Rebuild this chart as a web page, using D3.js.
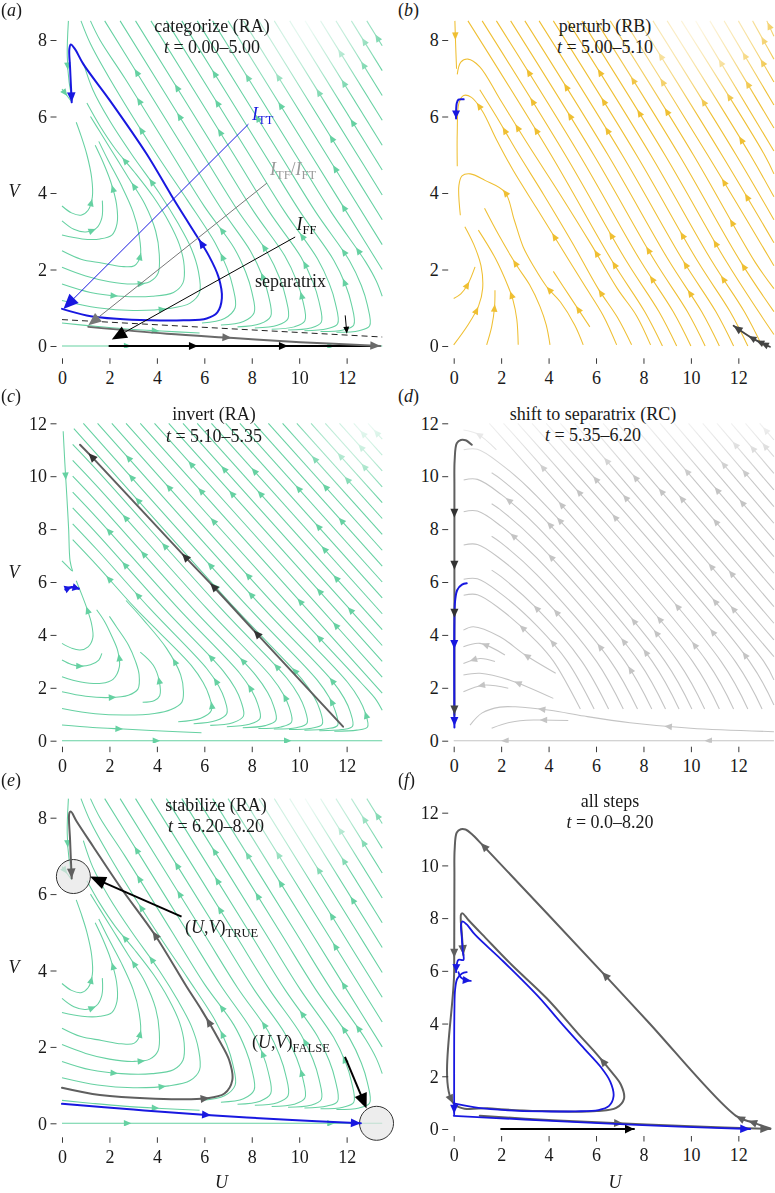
<!DOCTYPE html>
<html><head><meta charset="utf-8">
<script src="https://cdn.jsdelivr.net/npm/d3@7"></script>
<style>
html,body{margin:0;padding:0;background:#fff;}
svg{display:block;}
.t{font-family:"Liberation Serif","Times New Roman",serif;font-size:18px;fill:#1a1a1a;}
</style></head><body>
<script>
// ================= DATA =================
const xTickVals = [0,2,4,6,8,10,12];
const yTicksLow = [0,2,4,6,8];
const yTicksHigh = [0,2,4,6,8,10,12];
const titleTop = {a:"categorize (RA)", b:"perturb (RB)", c:"invert (RA)", d:"shift to separatrix (RC)", e:"stabilize (RA)", f:"all steps"};
const titleTime = {a:"0.00–5.00", b:"5.00–5.10", c:"5.10–5.35", d:"5.35–6.20", e:"6.20–8.20", f:"0.0–8.20"};

// streamlines of regime RA, V range 0-8.5 (panels a, e) — flow order
const raLines8 = [
 [[0,3.66],[0.4,3.48],[0.8,3.42],[1.1,3.55],[1.28,3.9],[1.25,4.4],[1.05,5.0],[0.8,5.5],[0.6,5.85]],
 [[0,3.27],[0.5,3.05],[1.0,2.98],[1.45,3.08],[1.68,3.35],[1.7,3.8]],
 [[0,2.9],[0.85,2.8],[1.6,2.8],[2.1,2.9],[2.32,3.2],[2.3,3.7],[2.05,4.3],[1.7,4.85],[1.4,5.25]],
 [[0,2.49],[0.8,2.27],[1.67,2.17],[2.5,2.08],[3.05,2.1],[3.3,2.35],[3.25,2.9],[3.0,3.5],[2.5,4.2],[1.95,4.85],[1.55,5.35]],
 [[0,2.06],[1.0,1.83],[2.0,1.68],[3.0,1.62],[3.7,1.68],[4.05,1.9],[4.1,2.4],[3.95,3.0],[3.5,3.7],[2.8,4.4],[2.2,5.0],[1.6,5.6],[1.2,6.0]],
 [[0,1.62],[1.2,1.4],[2.5,1.3],[3.8,1.3],[4.7,1.4],[5.1,1.65],[5.15,2.1],[4.95,2.65],[4.5,3.25],[3.85,3.9],[3.05,4.55],[2.25,5.15],[1.6,5.75],[1.05,6.35]],
 [[0,1.19],[1.5,1.0],[3.0,0.93],[4.5,0.98],[5.4,1.12],[5.8,1.4],[5.75,1.95],[5.45,2.55],[4.9,3.2],[4.1,4.0],[2.95,5.0],[2.0,5.9],[1.3,6.7],[0.9,7.4]],
 [[0,0.6],[1.3,0.52],[2.6,0.45],[4.2,0.39],[5.8,0.34]],
 [[0,0],[13.5,0]],
 [[0.27,8.5],[0.22,7.6],[0.3,6.9],[0.42,6.5]],
 [[0,6.72],[0.41,6.38]],
 [[5.9,0.6],[6.85,0.72],[7.3,1.0],[7.2,1.55],[6.95,2.05],[6.45,2.7],[5.3,3.8],[4.0,5.0],[2.0,7.0],[1.2,7.9],[0.8,8.5]],
 [[6.7,0.55],[7.65,0.64],[8.1,0.87],[8.0,1.42],[7.75,1.92],[7.25,2.57],[6.0,3.65],[4.65,5.0],[2.65,7.0],[1.6,8.0],[1.2,8.5]],
 [[7.4,0.5],[8.35,0.58],[8.8,0.78],[8.7,1.33],[8.45,1.83],[7.95,2.48],[6.7,3.6],[5.3,5.0],[3.3,7.0],[1.8,8.5]],
 [[8.13,0.47],[9.08,0.54],[9.53,0.72],[9.43,1.27],[9.18,1.77],[8.68,2.42],[7.4,3.55],[5.95,5.0],[2.45,8.5]],
 [[8.84,0.44],[9.79,0.5],[10.24,0.66],[10.14,1.21],[9.89,1.71],[9.39,2.36],[8.1,3.5],[6.6,5.0],[3.1,8.5]],
 [[9.53,0.42],[10.48,0.47],[10.93,0.62],[10.83,1.17],[10.58,1.67],[10.08,2.32],[8.75,3.5],[7.25,5.0],[3.75,8.5]],
 [[10.22,0.4],[11.17,0.45],[11.62,0.58],[11.52,1.13],[11.27,1.63],[10.77,2.28],[9.4,3.5],[7.9,5.0],[4.4,8.5]],
 [[10.9,0.38],[11.85,0.42],[12.3,0.55],[12.2,1.1],[11.95,1.6],[11.45,2.25],[10.05,3.5],[8.55,5.0],[5.05,8.5]],
 [[11.57,0.36],[12.52,0.4],[12.97,0.53],[12.87,1.08],[12.62,1.58],[12.12,2.23],[10.7,3.5],[9.2,5.0],[5.7,8.5]],
 [[13.5,1.3],[13.25,1.7],[12.8,2.2],[11.35,3.5],[9.85,5.0],[6.35,8.5]],
 [[13.5,2.0],[12.0,3.5],[10.5,5.0],[7.0,8.5]],
 [[13.5,2.65],[11.15,5.0],[7.65,8.5]],
 [[13.5,3.3],[11.8,5.0],[8.3,8.5]],
 [[13.5,3.95],[12.45,5.0],[8.95,8.5]],
 [[13.5,4.6],[9.6,8.5]],
 [[13.5,5.25],[10.25,8.5]],
 [[13.5,5.9],[10.9,8.5]],
 [[13.5,6.55],[11.55,8.5]],
 [[13.5,7.2],[12.2,8.5]],
 [[13.5,7.85],[12.85,8.5]]
];

// streamlines of regime RA, V range 0-12 (panel c) — flow order
const raLines12 = [
 [[0.05,11.7],[0.12,10.5],[0.2,9.3],[0.28,8.0],[0.34,6.8],[0.45,6.4]],
 [[0,6.8],[0.42,6.42]],
 [[0,3.68],[0.4,3.5],[0.76,3.43],[1.1,3.55],[1.3,3.9],[1.25,4.4],[1.05,5.0],[0.8,5.6],[0.6,6.05]],
 [[0,3.05],[0.4,2.88],[0.76,2.82],[1.2,2.87],[1.55,3.05],[1.68,3.3]],
 [[0,2.42],[0.8,2.22],[1.67,2.17],[2.15,2.32],[2.42,2.8],[2.35,3.4],[2.1,3.95],[1.8,4.5],[1.46,4.95]],
 [[0,1.85],[1.0,1.68],[2.0,1.63],[2.8,1.72],[3.2,1.95],[3.25,2.5],[3.1,3.0],[2.8,3.62],[2.3,4.3],[2.0,4.7]],
 [[3.4,1.45],[3.9,1.52],[4.12,1.7],[4.1,2.25],[3.85,2.85],[3.3,3.35]],
 [[0,1.22],[1.4,1.02],[2.7,0.97],[3.9,1.03],[4.6,1.18],[5.05,1.45],[5.12,1.85],[5.0,2.5],[4.4,3.5],[3.45,4.55],[2.7,5.3]],
 [[0,0.59],[1.3,0.5],[2.58,0.44],[4.2,0.37],[5.88,0.3]],
 [[0,0],[13.5,0]],
 [[4.9,0.72],[5.85,0.85],[6.3,1.15],[6.2,1.7],[5.95,2.2],[5.45,2.85],[3.1,5.0],[1.5,6.6],[0.45,7.6]],
 [[5.55,0.64],[6.5,0.76],[6.95,1.03],[6.85,1.58],[6.6,2.08],[6.1,2.73],[3.7,5.0],[1.5,7.2],[0.45,8.2]],
 [[6.25,0.58],[7.2,0.68],[7.65,0.93],[7.55,1.48],[7.3,1.98],[6.8,2.63],[4.3,5.0],[1.5,7.8],[0.45,8.8]],
 [[6.95,0.53],[7.9,0.62],[8.35,0.84],[8.25,1.39],[8.0,1.89],[7.5,2.54],[4.9,5.0],[1.5,8.4],[0.45,9.4]],
 [[7.62,0.49],[8.57,0.57],[9.02,0.77],[8.92,1.32],[8.67,1.82],[8.17,2.47],[5.5,5.0],[1.5,9.0],[0.45,10.0]],
 [[8.28,0.46],[9.23,0.52],[9.68,0.71],[9.58,1.26],[9.33,1.76],[8.83,2.41],[6.1,5.0],[1.5,9.6],[0.45,10.6]],
 [[8.93,0.44],[9.88,0.49],[10.33,0.66],[10.23,1.21],[9.98,1.71],[9.48,2.36],[6.7,5.0],[1.5,10.2],[0.45,11.2]],
 [[9.57,0.42],[10.52,0.47],[10.97,0.62],[10.87,1.17],[10.62,1.67],[10.12,2.32],[7.3,5.0],[1.5,10.8],[0.5,11.8]],
 [[10.22,0.4],[11.17,0.45],[11.62,0.58],[11.52,1.13],[11.27,1.63],[10.77,2.28],[7.9,5.0],[0.9,12.0]],
 [[10.85,0.38],[11.8,0.42],[12.25,0.55],[12.15,1.1],[11.9,1.6],[11.4,2.25],[8.5,5.0],[1.5,12.0]],
 [[11.48,0.36],[12.43,0.4],[12.88,0.52],[12.78,1.07],[12.53,1.57],[12.03,2.22],[9.1,5.0],[2.1,12.0]],
 [[13.5,1.15],[13.2,1.6],[12.6,2.2],[9.7,5.0],[2.7,12.0]],
 [[13.5,1.8],[10.3,5.0],[3.3,12.0]],
 [[13.5,2.4],[10.9,5.0],[3.9,12.0]],
 [[13.5,3.0],[11.5,5.0],[4.5,12.0]],
 [[13.5,3.6],[12.1,5.0],[5.1,12.0]],
 [[13.5,4.2],[5.7,12.0]],
 [[13.5,4.8],[6.3,12.0]],
 [[13.5,5.4],[6.9,12.0]],
 [[13.5,6.0],[7.5,12.0]],
 [[13.5,6.6],[8.1,12.0]],
 [[13.5,7.2],[8.7,12.0]],
 [[13.5,7.8],[9.3,12.0]],
 [[13.5,8.4],[9.9,12.0]],
 [[13.5,9.0],[10.5,12.0]],
 [[13.5,9.6],[11.1,12.0]],
 [[13.5,10.2],[11.7,12.0]],
 [[13.5,10.8],[12.3,12.0]],
 [[13.5,11.4],[12.9,12.0]]
];

// streamlines of regime RB (panel b) — flow order
const rbLines = [
 [[0,0.03],[0.6,0.55],[1.05,1.05],[1.22,1.5],[1.15,2.1],[0.85,2.65],[0.47,3.12]],
 [[0,1.24],[0.3,1.36],[0.6,1.62],[0.9,2.07]],
 [[1.39,0.03],[1.6,0.5],[1.72,1.0],[1.74,1.46]],
 [[2.72,0.03],[2.66,0.7],[2.5,1.2],[2.3,1.55],[1.75,2.3],[1.04,3.03]],
 [[4.06,0.03],[3.9,0.55],[3.64,1.03],[3.2,1.6],[2.65,2.11],[1.9,2.9],[1.3,3.6]],
 [[5.74,0.5],[4.9,1.29],[4.2,1.95]],
 [[5.46,0.03],[5.1,0.55],[4.5,1.15],[3.92,1.55],[3.4,2.05],[2.93,2.59],[2.55,3.3],[2.16,4.02],[1.32,4.33],[0.7,4.5],[0.35,4.45],[0.22,4.2],[0.28,3.42]],
 [[6.87,0.03],[6.3,0.8],[5.5,1.6],[4.5,2.6],[3.5,3.6],[2.5,4.6],[1.8,5.4],[1.2,6.15],[0.75,6.5],[0.42,6.55],[0.22,6.35],[0.15,5.6],[0.15,4.7]],
 [[7.5,0.03],[6.9,0.75],[6.09,1.5],[5.0,2.7],[3.8,3.95],[2.7,5.05],[1.8,6.0],[1.1,6.7]],
 [[8.3,0.03],[7.7,0.8],[6.9,1.5],[5.8,2.65],[4.5,3.95],[3.1,5.3],[1.95,6.45],[1.1,7.3],[0.6,7.5],[0.3,7.42],[0.15,7.1]],
 [[0.05,8.5],[0.08,7.9],[0.12,7.25]],
 [[8.8,0],[8.05,0.9],[6.7,2.2],[4.1,5.0],[0.6,8.5]],
 [[9.4,0],[8.65,0.9],[7.3,2.2],[4.7,5.0],[1.2,8.5]],
 [[10.0,0],[9.25,0.9],[7.9,2.2],[5.3,5.0],[1.8,8.5]],
 [[10.6,0],[9.85,0.9],[8.5,2.2],[5.9,5.0],[2.4,8.5]],
 [[11.2,0],[10.45,0.9],[9.1,2.2],[6.5,5.0],[3.0,8.5]],
 [[11.8,0],[11.05,0.9],[9.7,2.2],[7.1,5.0],[3.6,8.5]],
 [[12.4,0],[11.65,0.9],[10.3,2.2],[7.7,5.0],[4.2,8.5]],
 [[13.0,0],[12.25,0.9],[10.9,2.2],[8.3,5.0],[4.8,8.5]],
 [[13.5,0.3],[12.85,0.9],[11.5,2.2],[8.9,5.0],[5.4,8.5]],
 [[13.5,0.9],[12.1,2.2],[9.5,5.0],[6.0,8.5]],
 [[13.5,1.5],[12.7,2.2],[10.1,5.0],[6.6,8.5]],
 [[13.5,2.1],[10.7,5.0],[7.2,8.5]],
 [[13.5,2.7],[11.3,5.0],[7.8,8.5]],
 [[13.5,3.3],[11.9,5.0],[8.4,8.5]],
 [[13.5,3.9],[12.5,5.0],[9.0,8.5]],
 [[13.5,4.5],[13.1,5.0],[9.6,8.5]],
 [[13.5,5.1],[10.2,8.5]],
 [[13.5,5.7],[10.8,8.5]],
 [[13.5,6.3],[11.4,8.5]],
 [[13.5,6.9],[12.0,8.5]],
 [[13.5,7.5],[12.6,8.5]],
 [[13.5,8.1],[13.2,8.5]]
];

// streamlines of regime RC (panel d) — listed left to right, flow runs right to left
const rcLines = [
 [[0,0],[13.5,0]],
 [[0.69,0.59],[1.2,1.05],[1.95,1.27],[2.6,1.28],[4.06,1.15],[5.5,0.93],[7.43,0.68],[10,0.47],[13.5,0.34]],
 [[1.6,0.47],[2.4,0.7],[3.36,0.78],[4.83,0.76]],
 [[0.41,1.85],[1.25,2.1],[2.3,1.98]],
 [[0.41,2.48],[1.11,2.55],[2.37,2.29],[4.2,1.6]],
 [[0.41,2.92],[1.11,3.11],[1.74,2.99]],
 [[0.41,3.55],[1.11,3.68],[2.16,3.24]],
 [[0.41,4.18],[0.83,4.31],[1.95,3.93],[3.0,3.25],[4.3,2.55]],
 [[0.42,5.5],[1.0,5.52],[2.0,4.95],[3.5,3.75],[4.21,3.0],[5.34,1.2]],
 [[0.42,6.1],[1.0,6.12],[2.0,5.55],[3.5,4.35],[4.79,3.0],[5.92,1.2]],
 [[1.6,6.45],[2.0,6.2],[3.5,5.0],[5.4,3.0],[6.53,1.2]],
 [[0.42,7.4],[1.0,7.42],[2.0,6.85],[3.5,5.65],[6.02,3.0],[7.15,1.2]],
 [[1.6,7.73],[2.0,7.48],[3.5,6.28],[6.62,3.0],[7.75,1.2]],
 [[0.42,8.66],[1.0,8.68],[2.0,8.11],[3.5,6.91],[7.22,3.0],[8.35,1.2]],
 [[1.6,8.96],[2.0,8.71],[3.5,7.51],[7.8,3.0],[8.93,1.2]],
 [[0.42,9.86],[1.0,9.88],[2.0,9.31],[3.5,8.11],[8.37,3.0],[9.5,1.2]],
 [[1.6,10.13],[2.0,9.88],[3.5,8.68],[8.91,3.0],[10.04,1.2]],
 [[0.42,11.0],[1.0,11.02],[2.0,10.45],[3.5,9.25],[9.45,3.0],[10.58,1.2]],
 [[0.41,11.75],[1.0,11.6],[1.8,11.0]],
 [[1.5,12],[10.07,3.0],[11.2,1.2]],
 [[2.1,12],[10.67,3.0],[11.8,1.2]],
 [[2.7,12],[11.27,3.0],[12.4,1.2]],
 [[3.3,12],[11.87,3.0],[13.0,1.2]],
 [[3.9,12],[12.47,3.0],[13.5,1.35]],
 [[4.5,12],[13.07,3.0],[13.5,2.3]],
 [[5.1,12],[13.5,3.18]],
 [[5.7,12],[13.5,3.81]],
 [[6.3,12],[13.5,4.44]],
 [[6.9,12],[13.5,5.07]],
 [[7.5,12],[13.5,5.7]],
 [[8.1,12],[13.5,6.33]],
 [[8.7,12],[13.5,6.96]],
 [[9.3,12],[13.5,7.59]],
 [[9.9,12],[13.5,8.22]],
 [[10.5,12],[13.5,8.85]],
 [[11.1,12],[13.5,9.48]],
 [[11.7,12],[13.5,10.11]],
 [[12.3,12],[13.5,10.74]],
 [[12.9,12],[13.5,11.37]]
];

// trajectories
const trajA_blue = [[0.0,0.97],[1.04,0.8],[2.3,0.71],[3.71,0.67],[5.12,0.67],[6.1,0.72],[6.55,0.88],[6.74,1.25],[6.6,1.8],[6.2,2.35],[5.5,3.05],[4.6,3.95],[3.57,5.02],[2.03,6.41],[0.9,7.37],[0.55,7.76],[0.37,7.88],[0.31,7.76],[0.34,7.28],[0.38,6.76],[0.41,6.37]];
const trajA_gray = [[1.11,0.5],[4.42,0.32],[7.23,0.21],[10.04,0.1],[13.42,0.0]];
const trajA_black = [[2.0,0.0],[13.0,0.0]];
const separatrix = [[0,0.69],[13.5,0.235]];
const trajB_blue = [[0.42,6.45],[0.2,6.44],[0.13,6.35],[0.1,5.95]];
const trajB_gray = [[13.33,-0.02],[12.6,0.2],[11.8,0.53]];
const trajC_gray = [[11.85,0.53],[8.2,4.06],[6.38,5.83],[5.18,6.96],[1.25,10.74],[0.76,11.19]];
const trajC_blue = [[0.15,5.72],[0.4,5.8],[0.7,5.75]];
const trajD_gray = [[0.76,11.19],[0.5,11.36],[0.3,11.37],[0.13,11.25],[0.04,10.6],[0.03,9.5],[0.03,6.0],[0.03,0.97]];
const trajD_blue = [[0.55,5.95],[0.35,5.9],[0.15,5.7],[0.06,5.3],[0.03,4.5],[0.03,0.5]];
const trajE_gray = [[0,0.93],[1.6,0.74],[3.7,0.65],[6.03,0.65],[6.85,0.78],[7.18,1.13],[7.05,1.65],[6.6,2.2],[5.9,2.95],[5.25,3.58],[3.92,4.93],[2.44,6.2],[1.32,7.24],[0.62,7.9],[0.37,8.16],[0.31,8.12],[0.34,7.42],[0.41,6.41]];
const trajE_blue = [[0,0.51],[3,0.36],[6.1,0.22],[9.5,0.09],[12.6,0.0]];
const trajF_grayA = [[1.1,0.5],[4.4,0.32],[7.2,0.21],[10,0.1],[13.35,0.0]];
const trajF_gray = [[13.35,0.02],[12.6,0.25],[11.9,0.5],[8.2,4.06],[6.38,5.83],[1.25,10.74],[0.76,11.19],[0.5,11.36],[0.3,11.37],[0.13,11.25],[0.04,10.6],[0.03,9.5],[0.02,6],[0.0,0.97],[1.6,0.78],[3.7,0.68],[6.03,0.68],[6.85,0.8],[7.18,1.15],[7.05,1.68],[6.6,2.22],[5.9,2.97],[5.25,3.61],[3.92,4.96],[2.44,6.23],[1.32,7.27],[0.62,7.93],[0.37,8.18],[0.31,8.14],[0.34,7.45],[0.41,6.6]];
const trajF_blue1 = [[0.0,0.97],[1.04,0.8],[2.3,0.71],[3.71,0.67],[5.12,0.67],[6.1,0.72],[6.55,0.88],[6.74,1.25],[6.6,1.8],[6.2,2.35],[5.5,3.05],[4.6,3.95],[3.57,5.02],[2.03,6.41],[0.9,7.37],[0.55,7.76],[0.37,7.88],[0.31,7.76],[0.34,7.28],[0.38,6.76],[0.41,6.42],[0.2,6.42],[0.12,6.2],[0.1,5.95]];
const trajF_blue2 = [[0.2,5.95],[0.3,5.75],[0.5,5.65],[0.72,5.62]];
const trajF_blue3 = [[0.55,5.95],[0.35,5.9],[0.15,5.7],[0.06,5.3],[0.03,4.5],[0.02,0.55]];
const trajF_blue4 = [[0,0.5],[3,0.36],[6.1,0.22],[9.5,0.09],[12.5,0.0]];
const trajF_black = [[2.0,0.0],[7.6,0.0]];
const stableTrue = [0.48,6.46];
const stableFalse = [13.26,0.0];

// ================= DRAWING =================
const W = 775, H = 1193;
const SERIF = '"Liberation Serif","Times New Roman",serif';
const GREEN = '#66d1a2', GOLD = '#efbf32', LGRAY = '#c4c4c4', BLUE = '#1818e0', DGRAY = '#5f5f5f';
const svg = d3.select('body').append('svg').attr('width',W).attr('height',H);
const defs = svg.append('defs');

const layout = {
 a:{x0:62,    y0:346,    ppv:38.25, vmax:8.5, tickOff:12.3, yt:yTicksLow},
 b:{x0:453.7, y0:346,    ppv:38.25, vmax:8.5, tickOff:12.3, yt:yTicksLow},
 c:{x0:62,    y0:740.7,  ppv:26.45, vmax:12,  tickOff:6,    yt:yTicksHigh},
 d:{x0:453.7, y0:740.7,  ppv:26.45, vmax:12,  tickOff:6,    yt:yTicksHigh},
 e:{x0:62,    y0:1123.3, ppv:38.2,  vmax:8.5, tickOff:14,   yt:yTicksLow},
 f:{x0:453.7, y0:1129,   ppv:26.36, vmax:12,  tickOff:7,    yt:yTicksHigh}
};
const PPU = 23.72;
const P = {};
Object.keys(layout).forEach(k=>{
  const c = layout[k];
  const x = d3.scaleLinear().domain([0,13.5]).range([c.x0, c.x0+13.5*PPU]);
  const y = d3.scaleLinear().domain([0,c.vmax]).range([c.y0, c.y0-c.vmax*c.ppv]);
  defs.append('clipPath').attr('id','clip-'+k).append('rect')
    .attr('x',x(0)-1.5).attr('y',y(c.vmax)-1).attr('width',x(13.5)-x(0)+3).attr('height',y(0)-y(c.vmax)+3);
  P[k] = {x,y,key:k,c};
});

function radialMask(id, cx, cy, r){
  const gr = defs.append('radialGradient').attr('id',id+'-g').attr('gradientUnits','userSpaceOnUse')
    .attr('cx',cx).attr('cy',cy).attr('r',r);
  gr.append('stop').attr('offset',0).attr('stop-color','#151515');
  gr.append('stop').attr('offset',0.5).attr('stop-color','#707070');
  gr.append('stop').attr('offset',1).attr('stop-color','#ffffff');
  defs.append('mask').attr('id',id).attr('maskUnits','userSpaceOnUse').attr('x',0).attr('y',0).attr('width',W).attr('height',H)
    .append('rect').attr('width',W).attr('height',H).attr('fill',`url(#${id}-g)`);
}
function linearMask(id, yTop, yBot){
  const gr = defs.append('linearGradient').attr('id',id+'-g').attr('gradientUnits','userSpaceOnUse')
    .attr('x1',0).attr('x2',0).attr('y1',yTop).attr('y2',yBot);
  gr.append('stop').attr('offset',0).attr('stop-color','#3a3a3a');
  gr.append('stop').attr('offset',1).attr('stop-color','#ffffff');
  defs.append('mask').attr('id',id).attr('maskUnits','userSpaceOnUse').attr('x',0).attr('y',0).attr('width',W).attr('height',H)
    .append('rect').attr('width',W).attr('height',H).attr('fill',`url(#${id}-g)`);
}
radialMask('m-a', P.a.x(10.3), P.a.y(8.5), 90);
radialMask('m-e', P.e.x(10.3), P.e.y(8.5), 90);
radialMask('m-b', P.b.x(10.3), P.b.y(8.6), 100);
radialMask('m-c', P.c.x(12.9), P.c.y(12.1), 80);
linearMask('m-d', P.d.y(12), P.d.y(9.8));

function midArrow(g, node, s, color, len, hw, reverse){
  const L = node.getTotalLength();
  const a = node.getPointAtLength(Math.max(0,s-1.5)), b = node.getPointAtLength(Math.min(L,s+1.5));
  let ang = Math.atan2(b.y-a.y, b.x-a.x); if (reverse) ang += Math.PI;
  const p = node.getPointAtLength(s);
  g.append('path').attr('d',`M${len/2},0L${-len/2},${hw}L${-len/2},${-hw}Z`).attr('fill',color)
    .attr('transform',`translate(${p.x},${p.y}) rotate(${ang*180/Math.PI})`);
}
function endHead(g, node, color, len, hw){
  const L = node.getTotalLength();
  const a = node.getPointAtLength(Math.max(0,L-3)), p = node.getPointAtLength(L);
  const ang = Math.atan2(p.y-a.y, p.x-a.x);
  g.append('path').attr('d',`M0,0L${-len},${hw}L${-len},${-hw}Z`).attr('fill',color)
    .attr('transform',`translate(${p.x},${p.y}) rotate(${ang*180/Math.PI})`);
}
function nearestS(node, px, py){
  const L = node.getTotalLength(); let best=0, bd=1e12;
  for (let s=0; s<=L; s+=1){ const p=node.getPointAtLength(s); const d=(p.x-px)**2+(p.y-py)**2; if(d<bd){bd=d;best=s;} }
  return best;
}
const curve = d3.curveCatmullRom.alpha(0.5);
function gen(Pn){ return d3.line().x(d=>Pn.x(d[0])).y(d=>Pn.y(d[1])).curve(curve); }

function drawStreams(Pn, lines, color, reverse, maskId){
  const outer = svg.append('g').attr('clip-path',`url(#clip-${Pn.key})`);
  const g = maskId ? outer.append('g').attr('mask',`url(#${maskId})`) : outer;
  const lg = gen(Pn);
  lines.forEach((pts,i)=>{
    const path = g.append('path').attr('d',lg(pts)).attr('fill','none').attr('stroke',color).attr('stroke-width',1.05);
    const node = path.node(); const L = node.getTotalLength();
    if (L < 16) return;
    const n = Math.max(1, Math.round(L/165));
    for (let k=0;k<n;k++){
      const j = (((i*7+k*3)%5)-2)*0.09;
      midArrow(g, node, Math.min(L-4, Math.max(4,(k+0.5+j)/n*L)), color, 7.5, 3.3, reverse);
    }
  });
}
function drawTraj(Pn, pts, color, opt){
  opt = opt||{};
  const g = svg.append('g');
  const path = g.append('path').attr('d',gen(Pn)(pts)).attr('fill','none').attr('stroke',color)
    .attr('stroke-width',opt.w||2).attr('stroke-linejoin','round').attr('stroke-linecap','round');
  const node = path.node();
  (opt.arrows||[]).forEach(a=>{ midArrow(g,node,nearestS(node,Pn.x(a[0]),Pn.y(a[1])),opt.ac||color,opt.al||9,opt.ahw||4,false); });
  if (opt.head) endHead(g,node,opt.ac||color,opt.hl||10,opt.hhw||4.3);
}
function annArrow(Pn, from, to, color, w, len, hw){
  const x1=Pn.x(from[0]), y1=Pn.y(from[1]), x2=Pn.x(to[0]), y2=Pn.y(to[1]);
  const ang = Math.atan2(y2-y1,x2-x1);
  svg.append('line').attr('x1',x1).attr('y1',y1).attr('x2',x2-Math.cos(ang)*len*0.8).attr('y2',y2-Math.sin(ang)*len*0.8)
    .attr('stroke',color).attr('stroke-width',w);
  svg.append('path').attr('d',`M0,0L${-len},${hw}L${-len},${-hw}Z`).attr('fill',color)
    .attr('transform',`translate(${x2},${y2}) rotate(${ang*180/Math.PI})`);
}
function axes(Pn){
  const c = Pn.c;
  const ya = svg.append('g').attr('transform',`translate(${c.x0-5.5},0)`)
    .call(d3.axisLeft(Pn.y).tickValues(c.yt).tickSize(6).tickPadding(3.5));
  const xa = svg.append('g').attr('transform',`translate(0,${c.y0+c.tickOff})`)
    .call(d3.axisBottom(Pn.x).tickValues(xTickVals).tickSize(5.5).tickPadding(7.2));
  [ya,xa].forEach(a=>{
    a.select('.domain').remove();
    a.selectAll('line').attr('stroke','#3a3a3a');
    a.selectAll('text').style('font-family',SERIF).style('font-size','18px').style('fill','#1a1a1a');
  });
}
function title(k, cx, y1, y2){
  svg.append('text').attr('class','t').attr('x',cx).attr('y',y1).attr('text-anchor','middle').text(titleTop[k]);
  const t = svg.append('text').attr('class','t').attr('x',cx).attr('y',y2).attr('text-anchor','middle');
  t.append('tspan').attr('font-style','italic').text('t');
  t.append('tspan').text(' = '+titleTime[k]);
}
function panelLabel(letter, x, y){
  const t = svg.append('text').attr('class','t').attr('x',x).attr('y',y);
  t.append('tspan').text('(');
  t.append('tspan').attr('font-style','italic').text(letter);
  t.append('tspan').text(')');
}
function italicLabel(s, x, y){
  svg.append('text').attr('class','t').attr('x',x).attr('y',y).attr('text-anchor','middle').attr('font-style','italic').text(s);
}
function subLabel(parts, x, y, color){
  const t = svg.append('text').attr('class','t').attr('x',x).attr('y',y).style('fill',color);
  parts.forEach(p=>{
    const s = t.append('tspan').text(p[0]);
    if (p[1]==='i') s.attr('font-style','italic');
    if (p[1]==='s') s.attr('font-size',12.5).attr('dy',4);
    if (p[1]==='u') s.attr('dy',-4);
  });
}

// ---- panel (a)
drawStreams(P.a, raLines8, GREEN, false, 'm-a');
svg.append('path').attr('d',d3.line().x(d=>P.a.x(d[0])).y(d=>P.a.y(d[1]))(separatrix))
  .attr('stroke','#222').attr('stroke-width',1).attr('stroke-dasharray','6,4').attr('fill','none');
drawTraj(P.a, trajA_black, '#000', {arrows:[[5.54,0],[9.34,0]]});
drawTraj(P.a, trajA_gray, '#6a6a6a', {arrows:[[6.95,0.22]], head:true});
drawTraj(P.a, trajA_blue, BLUE, {arrows:[[5.82,2.67]], head:true});
annArrow(P.a, [7.86,5.8], [0.06,0.97], BLUE, 1, 15, 6.5);
annArrow(P.a, [8.64,4.26], [1.11,0.54], '#777', 1, 13, 5.5);
annArrow(P.a, [9.83,2.85], [2.1,0.17], '#000', 1, 15, 6.5);
annArrow(P.a, [11.94,0.8], [12.01,0.32], '#000', 1, 7, 3);
subLabel([['I','i'],['TT','s']], 252, 120, BLUE);
subLabel([['I','i'],['TF','s'],['/','u'],['I','i'],['FT','s']], 270, 175, '#9a9a9a');
subLabel([['I','i'],['FF','s']], 296.5, 230, '#111');
svg.append('text').attr('class','t').attr('x',255).attr('y',287).text('separatrix');
title('a', 212, 31.5, 53);
panelLabel('a', 1, 16);
italicLabel('V', 14, 197);
axes(P.a);

// ---- panel (b)
drawStreams(P.b, rbLines, GOLD, false, 'm-b');
drawTraj(P.b, trajB_gray, '#444', {w:1.8, arrows:[[12.56,0.19],[12.9,0.1],[13.1,0.06]], al:8, ahw:3.5, head:true, hl:9, hhw:4});
drawTraj(P.b, trajB_blue, BLUE, {head:true, hl:8, hhw:4});
title('b', 605, 31.5, 52.5);
panelLabel('b', 398, 16);
axes(P.b);

// ---- panel (c)
drawStreams(P.c, raLines12, GREEN, false, 'm-c');
drawTraj(P.c, trajC_gray, DGRAY, {arrows:[[8.2,4.06],[6.38,5.83],[5.18,6.96],[1.25,10.74]], ac:'#333'});
drawTraj(P.c, trajC_blue, BLUE, {w:2.5, arrows:[[0.25,5.77],[0.6,5.78]], al:7, ahw:4});
title('c', 214, 420, 442);
panelLabel('c', 1, 402);
italicLabel('V', 14, 578);
axes(P.c);

// ---- panel (d)
drawStreams(P.d, rcLines, LGRAY, true, 'm-d');
drawTraj(P.d, trajD_gray, DGRAY, {arrows:[[0.03,8.6],[0.03,6.64]], ac:'#333'});
drawTraj(P.d, trajD_blue, BLUE, {arrows:[[0.03,3.62],[0.03,0.72]]});
drawTraj(P.d, [[0.03,5.2],[0.03,4.4]], DGRAY, {w:0.1, arrows:[[0.03,4.82]], ac:'#333'});
drawTraj(P.d, [[0.03,1.5],[0.03,0.9]], DGRAY, {w:0.1, arrows:[[0.03,1.16]], ac:'#444'});
title('d', 593, 419.5, 441);
panelLabel('d', 398, 402);
axes(P.d);

// ---- panel (e)
drawStreams(P.e, raLines8, GREEN, false, 'm-e');
[stableTrue, stableFalse].forEach(s=>{
  svg.append('circle').attr('cx',P.e.x(s[0])).attr('cy',P.e.y(s[1])).attr('r',17)
    .attr('fill','#e6e6e6').attr('fill-opacity',0.7).attr('stroke','#333').attr('stroke-width',1);
});
drawTraj(P.e, trajE_gray, DGRAY, {arrows:[[6.03,0.65],[6.17,2.66],[3.92,4.93]], head:true});
drawTraj(P.e, trajE_blue, BLUE, {arrows:[[6.1,0.22]], head:true});
annArrow(P.e, [5.04,5.41], [1.18,6.46], '#000', 2, 16, 6.5);
annArrow(P.e, [11.93,1.74], [12.84,0.39], '#000', 2, 15, 6.5);
subLabel([['(',''],['U','i'],[',',''],['V','i'],[')',''],['TRUE','s']], 185, 933, '#1a1a1a');
subLabel([['(',''],['U','i'],[',',''],['V','i'],[')',''],['FALSE','s']], 252, 1048, '#1a1a1a');
title('e', 216, 811, 832);
panelLabel('e', 1, 786);
italicLabel('V', 14, 973);
italicLabel('U', 221.5, 1188);
axes(P.e);

// ---- panel (f)
drawTraj(P.f, trajF_black, '#000', {head:true, hl:9, hhw:4.5});
drawTraj(P.f, trajF_grayA, DGRAY, {arrows:[[6.94,0.24]], head:true});
drawTraj(P.f, trajF_gray, DGRAY, {arrows:[[12.6,0.25],[12.1,0.45],[1.25,10.7],[6.38,5.84],[0.02,6.66],[0.0,1.16],[6.24,2.55]], head:true});
drawTraj(P.f, trajF_blue1, BLUE, {w:1.8, head:true, hl:8, hhw:4});
drawTraj(P.f, trajF_blue2, BLUE, {w:1.8, head:true, hl:8, hhw:4});
drawTraj(P.f, trajF_blue3, BLUE, {w:1.8, arrows:[[0.02,0.75]]});
drawTraj(P.f, trajF_blue4, BLUE, {w:1.8, head:true});
title('f', 610, 807, 828);
panelLabel('f', 398, 786);
italicLabel('U', 615, 1188);
axes(P.f);
</script>
</body></html>
